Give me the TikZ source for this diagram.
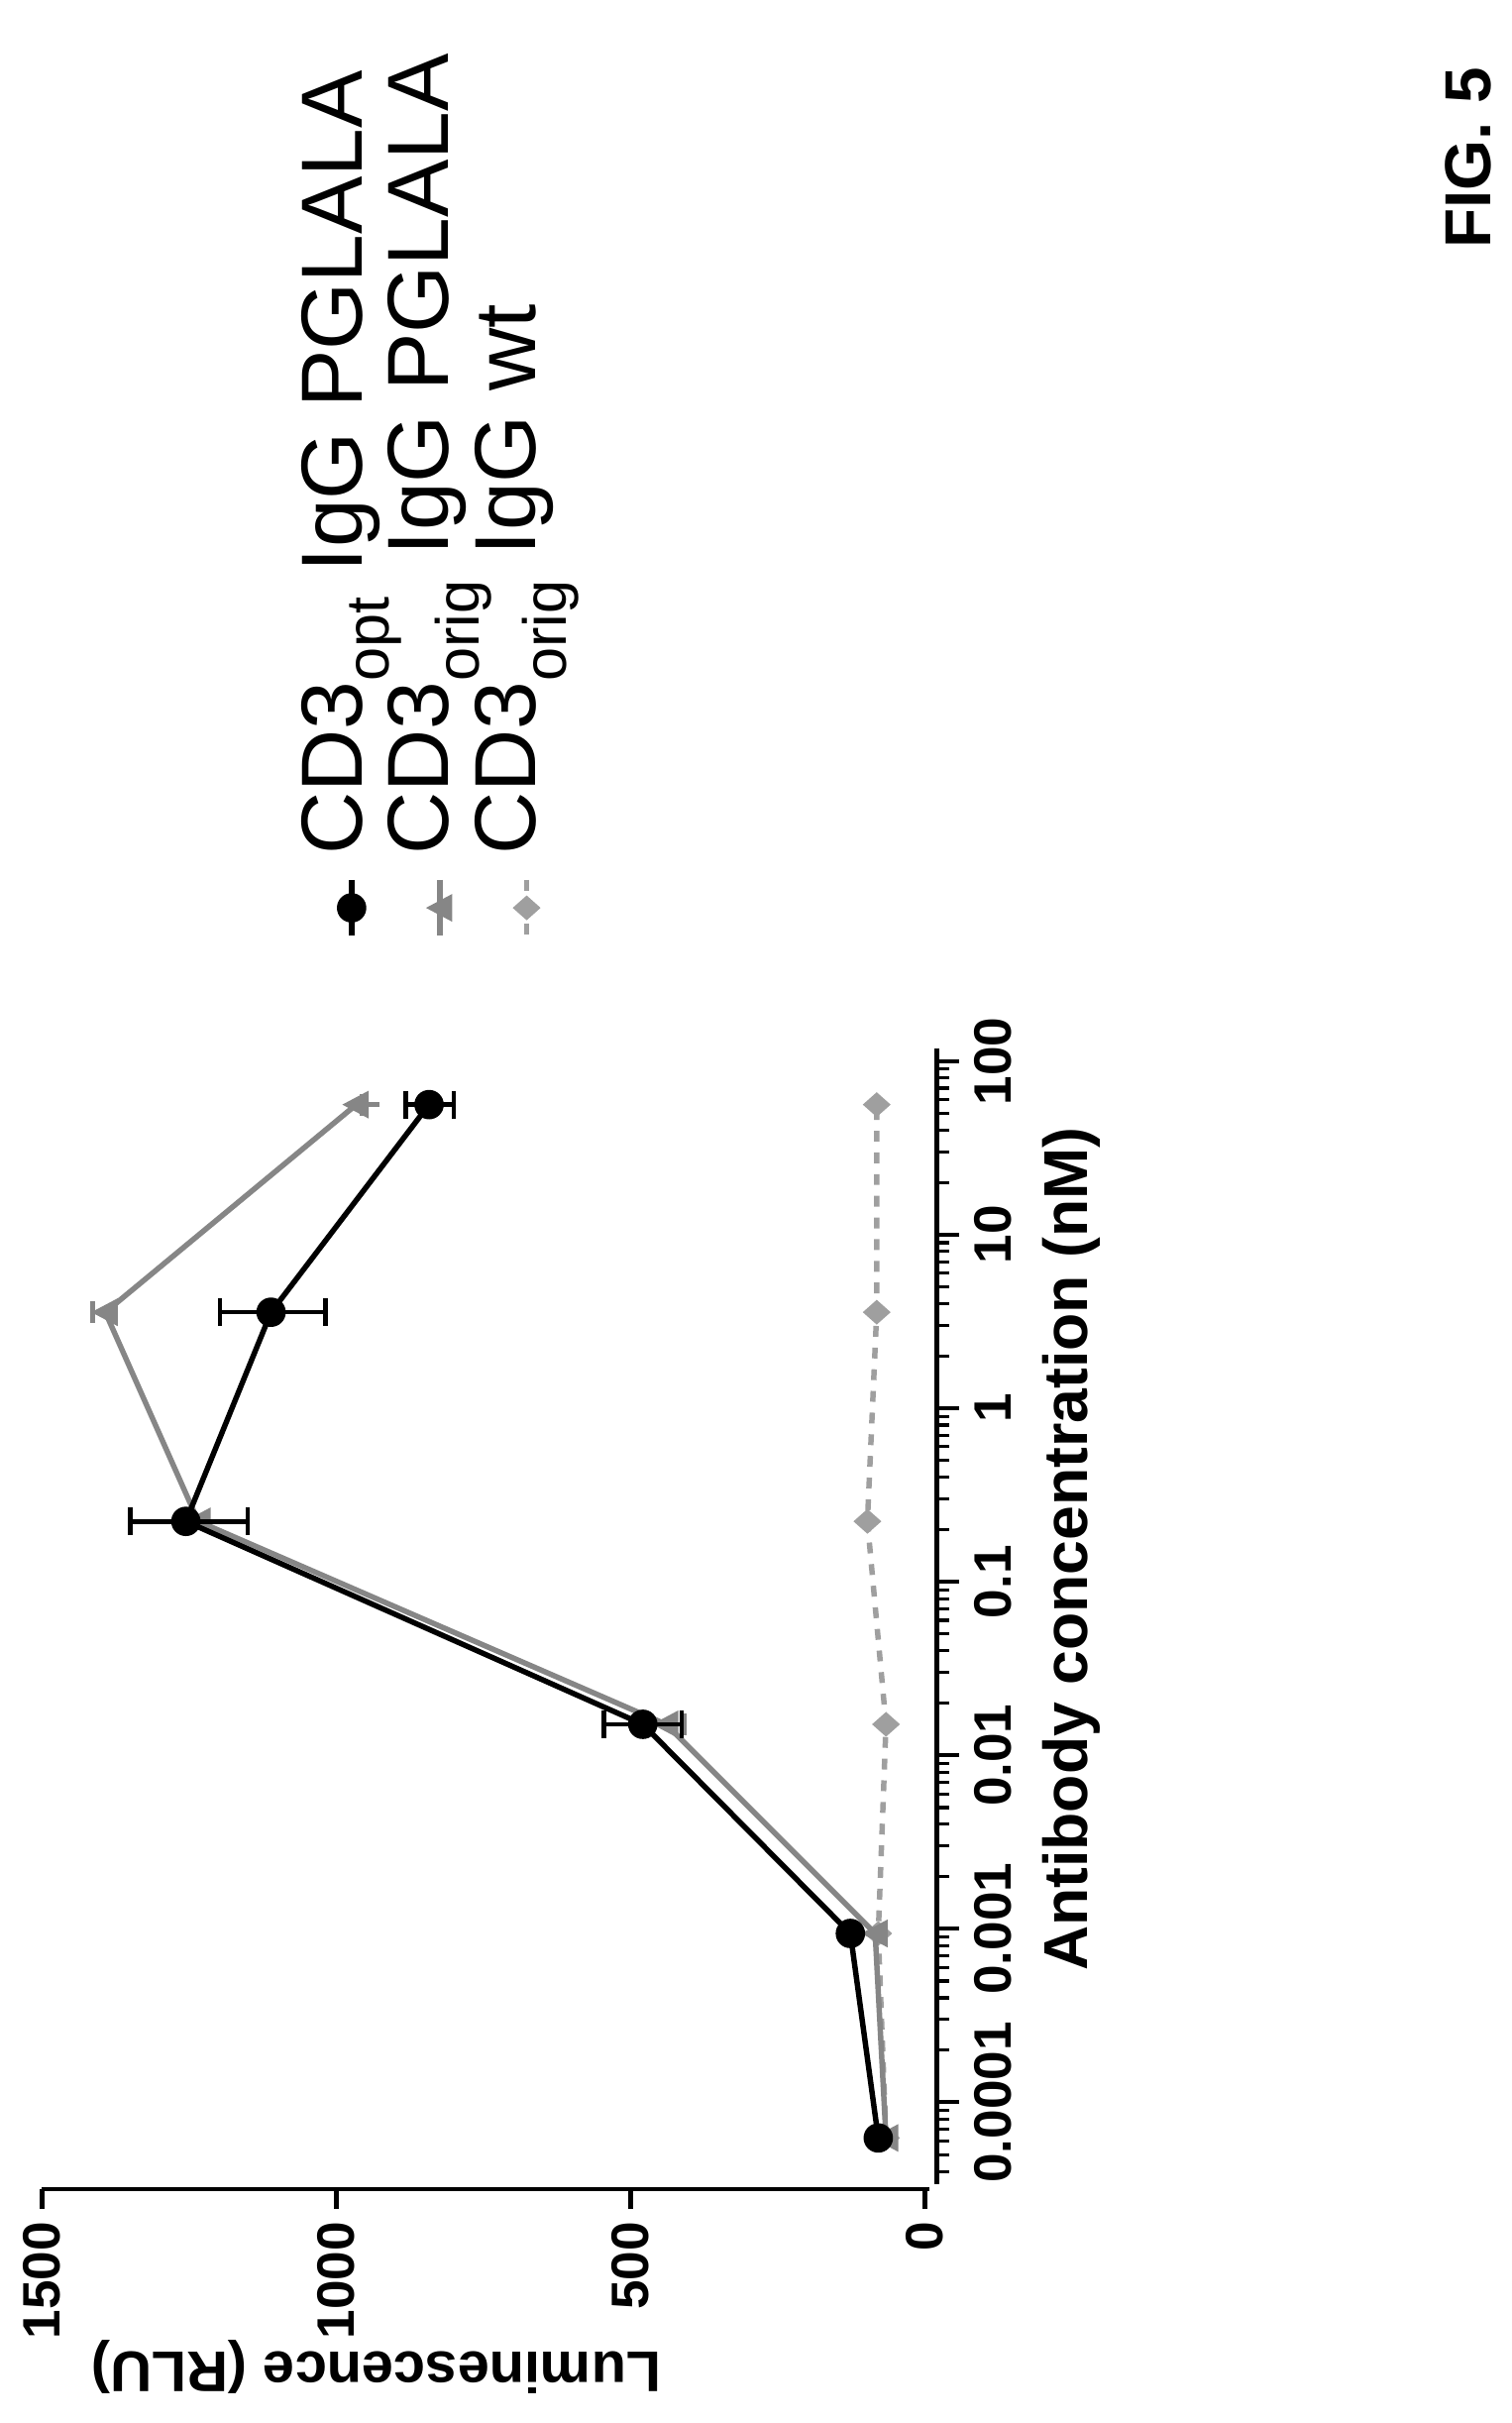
\documentclass[tikz,border=0pt]{standalone}
\usepackage{fontspec}
\setmainfont{Liberation Sans}
\begin{document}
\begin{tikzpicture}[x=1pt,y=-1pt,
  lbl/.style={font=\fontsize{34}{36}\selectfont\bfseries, rotate=90, inner sep=0},
  blk/.style={line width=3.5pt, black},
  gry/.style={line width=3.5pt, gray!95},
  wtl/.style={line width=3.5pt, gray!75, dash pattern=on 7pt off 7pt},
  ebar/.style={line width=3pt}]
\useasboundingbox (0,0) rectangle (976,1564);
% value axis
\draw[line width=3pt] (27,1413) -- (600,1413);
\foreach \v/\t in {0/0,500/500,1000/1000,1500/1500}{
  \draw[line width=3pt] ({597-0.38*\v},1413) -- ({597-0.38*\v},1426);
  \node[lbl, font=\fontsize{34}{36}\selectfont\bfseries, anchor=east] (yt\v) at ({597-0.38*\v},1434) {\t};
}
\node[font=\fontsize{37}{40}\selectfont\bfseries, rotate=180] (ylab) at (243,1528) {Luminescence (RLU)};
% concentration axis
\draw[line width=3pt] (605,677) -- (605,1410);
\foreach \d in {0,...,6}{
  \draw[line width=2.5pt] (605,{1357-\d*112}) -- (619,{1357-\d*112});
}
\foreach \d in {-1,0,...,5}{
  \foreach \k in {2,...,9}{
    \pgfmathsetmacro{\yy}{1357-(\d+ln(\k)/ln(10))*112}
    \ifdim\yy pt<1410pt
      \draw[line width=2pt] (605,\yy) -- (613,\yy);
    \fi
  }
}
\foreach \d/\t in {0/0.0001,1/0.001,2/0.01,3/0.1,4/1,5/10,6/100}{
  \node[lbl] (xt\d) at (641,{1357-\d*112}) {\t};
}
\node[lbl, font=\fontsize{40}{43}\selectfont\bfseries] (xlab) at (692,1000) {Antibody concentration (nM)};
% wt dashed
\draw[wtl] (572,1380) -- (567,1248) -- (572,1113) -- (560,982) -- (566,847) -- (566,713);
\foreach \x/\y in {572/1380,567/1248,572/1113,560/982,566/847,566/713}{
  \fill[gray!75] (\x-9,\y) -- (\x,\y-8) -- (\x+9,\y) -- (\x,\y+8) -- cycle;
}
% gray PGLALA
\draw[gry] (572,1380) -- (565,1248) -- (430,1113) -- (128,982) -- (68,847) -- (230,713);
\draw[ebar, gray!95] (60,840) -- (60,854) (60,847) -- (72,847);
\draw[ebar, gray!95] (234,706) -- (234,720) (234,713) -- (245,713);
\draw[ebar, gray!95] (442,1106) -- (442,1120) (430,1113) -- (442,1113);
\foreach \x/\y in {572/1380,565/1248,430/1113,128/982,68/847,230/713}{
  \fill[gray!95] (\x-9,\y) -- (\x+8,\y-9) -- (\x+8,\y+9) -- cycle;
}
% black opt
\draw[blk] (567,1380) -- (549,1248) -- (415,1113) -- (120,982) -- (175,847) -- (277,713);
\foreach \a/\b/\y in {390/440/1113,84/160/982,142/210/847,262/293/713}{
  \draw[ebar] (\a,\y) -- (\b,\y) (\a,\y-9) -- (\a,\y+9) (\b,\y-9) -- (\b,\y+9);
}
\foreach \x/\y in {567/1380,549/1248,415/1113,120/982,175/847,277/713}{
  \fill (\x,\y) circle (9.5);
}
% legend
\draw[blk] (227,568) -- (227,604); \fill (227,586) circle (9.5);
\draw[gry] (284,568) -- (284,604);
\fill[gray!95] (275,586) -- (292,577) -- (292,595) -- cycle;
\draw[wtl] (340,568) -- (340,604);
\fill[gray!75] (331,586) -- (340,578) -- (349,586) -- (340,594) -- cycle;
\node[font=\fontsize{56}{60}\selectfont, rotate=90, anchor=west, inner sep=0] (l1) at (227,552) {CD3\textsubscript{opt} IgG PGLALA};
\node[font=\fontsize{56}{60}\selectfont, rotate=90, anchor=west, inner sep=0] (l2) at (284,552) {CD3\textsubscript{orig} IgG PGLALA};
\node[font=\fontsize{56}{60}\selectfont, rotate=90, anchor=west, inner sep=0] (l3) at (340,552) {CD3\textsubscript{orig} IgG wt};
\node[font=\fontsize{42}{45}\selectfont\bfseries, rotate=90] (fig) at (948,102) {FIG. 5};
\end{tikzpicture}
\end{document}
